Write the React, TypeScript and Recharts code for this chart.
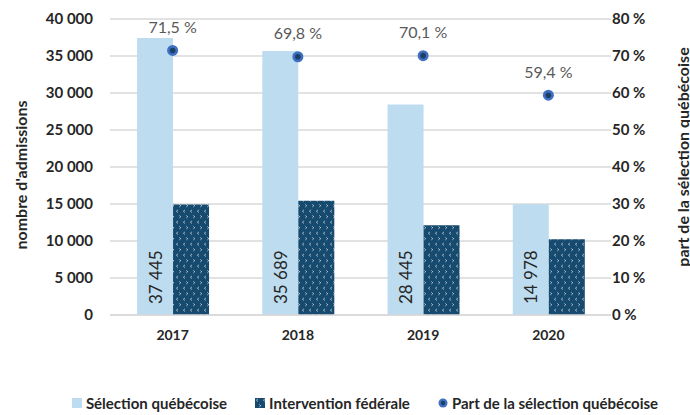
import React from "react";
import {
  ComposedChart,
  Bar,
  Line,
  XAxis,
  YAxis,
  CartesianGrid,
  Legend,
  LabelList,
  Label,
} from "recharts";

const years = ["2017", "2018", "2019", "2020"];
const selectionQuebecoise = [37445, 35689, 28445, 14978];
const interventionFederale = [14926, 15441, 12133, 10237];
const partSelection = [71.5, 69.8, 70.1, 59.4];
const leftTicks = [0, 5000, 10000, 15000, 20000, 25000, 30000, 35000, 40000];
const rightTicks = [0, 10, 20, 30, 40, 50, 60, 70, 80];
const legendOrder = ["qc", "fed", "part"];

const data = years.map((y, i) => ({
  year: y,
  qc: selectionQuebecoise[i],
  fed: interventionFederale[i],
  part: partSelection[i],
}));

const FONT = "Lato, 'Open Sans', sans-serif";
const LIGHT = "#BDDCEF";
const NAVY = "#174A6F";
const DOT_RING = "#3F6FC0";
const DOT_FILL = "#1B3F66";

const fmtNum = (v: number) =>
  String(v).replace(/\B(?=(\d{3})+(?!\d))/g, "\u00A0");
const fmtPct = (v: number) => `${String(v).replace(".", ",")}\u00A0%`;

const BarValueLabel = (props: any) => {
  const { x, y, width, height, value } = props;
  const cx = x + width / 2;
  const by = y + height - 11;
  return (
    <text
      x={cx}
      y={by}
      transform={`rotate(-90, ${cx}, ${by})`}
      textAnchor="start"
      dominantBaseline="central"
      fontFamily={FONT}
      fontSize={17}
      fill="#262626"
    >
      {fmtNum(value)}
    </text>
  );
};

const PctLabel = (props: any) => {
  const { x, y, value } = props;
  return (
    <text
      x={x}
      y={y - 24}
      textAnchor="middle"
      dominantBaseline="central"
      fontFamily={FONT}
      fontSize={16}
      fill="#595959"
    >
      {fmtPct(value)}
    </text>
  );
};

const ShareDot = (props: any) => {
  const { cx, cy } = props;
  return (
    <g>
      <circle cx={cx} cy={cy} r={5.5} fill={DOT_RING} />
      <circle cx={cx} cy={cy} r={2.8} fill={DOT_FILL} />
    </g>
  );
};

const LegendContent = (props: any) => {
  const payload = [...(props.payload || [])].sort(
    (a: any, b: any) => legendOrder.indexOf(a.dataKey) - legendOrder.indexOf(b.dataKey)
  );
  return (
    <div
      style={{
        display: "flex",
        justifyContent: "center",
        alignItems: "center",
        height: 30,
        paddingTop: 6,
        boxSizing: "border-box",
        fontFamily: FONT,
        fontWeight: 700,
        fontSize: 15,
        color: "#262626",
        paddingLeft: 40,
      }}
    >
      {payload.map((p: any, i: number) => (
        <div
          key={i}
          style={{ display: "flex", alignItems: "center", marginRight: i < 2 ? 28 : 0 }}
        >
          {p.dataKey === "part" ? (
            <svg width={10} height={10} style={{ marginRight: 4 }}>
              <circle cx={5} cy={5} r={4.5} fill={DOT_RING} />
              <circle cx={5} cy={5} r={2.2} fill={DOT_FILL} />
            </svg>
          ) : (
            <svg width={10} height={10} style={{ marginRight: 4 }}>
              <rect
                width={10}
                height={10}
                fill={p.dataKey === "fed" ? "url(#fedPattern)" : LIGHT}
              />
            </svg>
          )}
          <span>{p.value}</span>
        </div>
      ))}
    </div>
  );
};

export default function App() {
  return (
    <div style={{ position: "absolute", left: 0, top: 0, width: 690, height: 415, background: "#fff" }}>
      <svg width={0} height={0} style={{ position: "absolute" }}>
        <defs>
          <pattern id="fedPattern" width={7} height={11} patternUnits="userSpaceOnUse">
            <rect width={7} height={11} fill={NAVY} />
            <path d="M2.8 1 L1.5 2.2 L2.8 3.4" stroke="#fff" strokeWidth={0.7} fill="none" />
            <path d="M4.4 6.5 L5.7 7.7 L4.4 8.9" stroke="#fff" strokeWidth={0.7} fill="none" />
          </pattern>
        </defs>
      </svg>
      <ComposedChart
        width={690}
        height={415}
        data={data}
        margin={{ top: 19, right: 0, left: 0, bottom: 0 }}
        barGap={0}
        barCategoryGap="21.6%"
        style={{ fontFamily: FONT }}
      >
        <CartesianGrid vertical={false} stroke="#D9D9D9" strokeWidth={1.5} yAxisId="left" />
        <XAxis
          dataKey="year"
          axisLine={{ stroke: "#D9D9D9", strokeWidth: 1.5 }}
          tickLine={false}
          tickSize={0}
          tickMargin={15}
          height={70}
          tick={{ fill: "#262626", fontSize: 14, fontWeight: 700, fontFamily: FONT }}
        />
        <YAxis
          yAxisId="left"
          domain={[0, 40000]}
          ticks={leftTicks}
          axisLine={false}
          tickLine={false}
          tickSize={0}
          tickMargin={17}
          width={110}
          tickFormatter={fmtNum}
          tick={{ fill: "#262626", fontSize: 15, fontWeight: 700, fontFamily: FONT }}
        >
          <Label
            content={() => (
              <text
                x={20}
                y={175}
                transform="rotate(-90, 20, 175)"
                textAnchor="middle"
                dominantBaseline="central"
                fontFamily={FONT}
                fontSize={16}
                fontWeight={700}
                fill="#262626"
              >
                nombre d'admissions
              </text>
            )}
          />
        </YAxis>
        <YAxis
          yAxisId="right"
          orientation="right"
          domain={[0, 80]}
          ticks={rightTicks}
          axisLine={false}
          tickLine={false}
          tickSize={0}
          tickMargin={1}
          width={79}
          tickFormatter={(v: number) => `${v}\u00A0%`}
          tick={{ fill: "#262626", fontSize: 15, fontWeight: 700, fontFamily: FONT }}
        >
          <Label
            content={() => (
              <text
                x={682}
                y={157}
                transform="rotate(-90, 682, 157)"
                textAnchor="middle"
                dominantBaseline="central"
                fontFamily={FONT}
                fontSize={16}
                fontWeight={700}
                fill="#262626"
              >
                part de la sélection québécoise
              </text>
            )}
          />
        </YAxis>
        <Legend verticalAlign="bottom" height={30} content={<LegendContent />} />
        <Bar
          yAxisId="left"
          dataKey="qc"
          name="Sélection québécoise"
          fill={LIGHT}
          isAnimationActive={false}
        >
          <LabelList dataKey="qc" content={<BarValueLabel />} />
        </Bar>
        <Bar
          yAxisId="left"
          dataKey="fed"
          name="Intervention fédérale"
          fill="url(#fedPattern)"
          isAnimationActive={false}
        />
        <Line
          yAxisId="right"
          dataKey="part"
          name="Part de la sélection québécoise"
          stroke="none"
          dot={<ShareDot />}
          activeDot={false}
          isAnimationActive={false}
        >
          <LabelList dataKey="part" content={<PctLabel />} />
        </Line>
      </ComposedChart>
    </div>
  );
}
